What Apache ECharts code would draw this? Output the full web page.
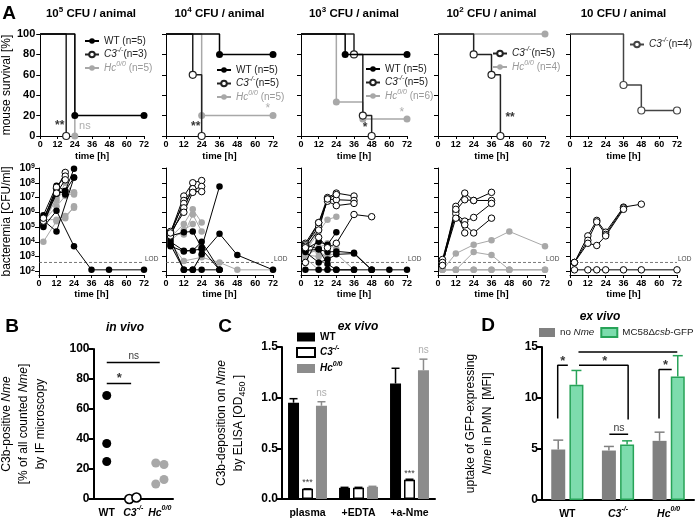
<!DOCTYPE html>
<html><head><meta charset="utf-8">
<script src="https://cdn.jsdelivr.net/npm/echarts@6/dist/echarts.min.js"></script>
<style>html,body{margin:0;padding:0;background:#fff}#c{width:696px;height:521px}</style>
</head><body><div id="c"></div><script>
const FF = '"Liberation Sans", Arial, Helvetica, sans-serif';

// ===== Panel A, top row: survival [%] vs time [h] =====
const s1_WT = [[0,100],[24,20],[72,20]];
const s1_C3 = [[0,100],[18,0]];
const s1_Hc = [[0,100],[24,0]];
const s2_WT = [[0,100],[36,80],[72,80]];
const s2_C3 = [[0,100],[18,60],[24,0]];
const s2_Hc = [[0,100],[24,20],[72,20]];
const s3_WT = [[0,100],[30,80],[72,80]];
const s3_C3 = [[0,100],[36,80],[42,20],[48,0]];
const s3_Hc = [[0,100],[24,33.3],[42,16.7],[72,16.7]];
const s4_C3 = [[0,100],[24,80],[36,60],[42,0]];
const s4_Hc = [[0,100],[72,100]];
const s5_C3 = [[0,100],[36,50],[48,25],[72,25]];
const plotTitles = ['5','4','3','2',''];

// ===== Panel A, bottom row: bacteremia, log10 CFU/ml vs time [h] =====
const bac1_Hc = [
 [[3,4.0],[12,5.4],[18,5.6],[24,6.4]],
 [[3,5.4],[12,6.4],[18,7.1],[24,7.3]],
 [[3,5.6],[12,6.8],[18,8.0],[24,7.2]],
 [[3,5.5],[12,5.5],[18,5.75],[24,6.3]],
 [[3,5.2],[12,7.0],[18,7.4],[24,7.35]]];
const bac1_WT = [
 [[3,5.8],[12,7.8],[18,7.45],[24,8.95]],
 [[3,5.45],[12,4.7],[24,8.35]],
 [[3,5.1],[12,7.55],[18,7.2]],
 [[3,5.3],[12,7.25],[18,7.45],[24,8.35]],
 [[3,5.0],[12,6.1],[24,3.7],[36,2.1],[48,2.1],[72,2.1]]];
const bac1_C3 = [
 [[3,5.5],[12,7.6],[18,8.7]],
 [[3,5.4],[12,7.7],[18,8.45]],
 [[3,5.6],[12,7.3],[18,8.2]]];

const bac2_Hc = [
 [[3,4.3],[12,5.2],[18,6.2],[24,5.3]],
 [[3,4.5],[12,4.5],[18,5.85],[24,4.7]],
 [[3,4.1],[12,4.8],[18,5.2]],
 [[3,3.9],[12,2.7],[24,2.95],[36,2.6],[48,2.1],[72,2.1]],
 [[3,4.0],[12,2.1],[18,2.1],[24,3.1]]];
const bac2_WT = [
 [[3,4.4],[12,4.65],[18,4.7],[24,3.6],[36,7.75]],
 [[3,4.0],[12,3.4],[18,3.4],[24,4.0],[36,2.1]],
 [[3,3.8],[12,2.1],[18,2.1],[24,3.15],[36,4.55],[48,3.1],[72,2.1]],
 [[3,4.2],[12,2.1],[18,2.1],[24,2.1],[36,2.1]],
 [[3,3.7],[12,3.35],[24,3.5],[36,2.1]]];
const bac2_C3 = [
 [[3,4.6],[12,7.1],[18,8.0],[24,8.15]],
 [[3,4.5],[12,6.8],[18,7.5],[24,7.75]],
 [[3,4.7],[12,6.6],[18,7.4],[24,7.4]],
 [[3,4.4],[12,6.3],[18,7.6]],
 [[3,4.6],[12,6.0],[18,7.35]]];

const bac3_Hc = [
 [[3,3.2],[12,5.2],[18,6.85],[24,6.9]],
 [[3,3.3],[12,4.7],[18,5.5],[24,5.7]],
 [[3,3.0],[12,3.6],[18,3.9],[24,3.5]],
 [[3,3.4],[12,3.3],[18,3.0]],
 [[3,2.9],[12,2.1],[18,2.1],[24,2.1]],
 [[3,3.1],[12,3.0],[24,3.2],[36,2.1]]];
const bac3_WT = [
 [[3,3.5],[12,4.0],[18,3.8],[24,4.65]],
 [[3,3.8],[12,3.5],[18,3.3],[24,3.35],[36,3.25],[48,2.1]],
 [[3,3.3],[12,2.6],[18,2.8],[24,3.15],[36,3.2],[48,2.1]],
 [[3,2.1],[12,2.1],[18,2.1],[24,2.1],[36,2.1],[48,2.1],[60,2.1],[72,2.1]],
 [[3,3.4],[12,3.5],[18,2.5],[24,2.1],[36,2.1]]];
const bac3_C3 = [
 [[3,3.9],[12,5.3],[18,7.0],[24,7.3],[36,7.1]],
 [[3,3.8],[12,5.0],[18,6.9],[24,6.85],[36,6.8]],
 [[3,3.7],[12,5.3],[18,6.75],[24,6.45],[36,6.6]],
 [[3,2.6],[12,4.3],[18,3.6],[24,3.9],[36,5.85],[48,5.7]],
 [[3,3.6],[12,4.8],[18,6.9],[24,7.2]]];

const bac4_Hc = [
 [[3,2.1],[12,3.2],[24,3.8],[36,4.1],[48,4.7],[72,3.7]],
 [[3,2.1],[12,2.1],[24,3.3],[36,3.1],[48,2.1]],
 [[3,2.1],[12,2.1],[24,2.1],[36,2.1],[48,2.1],[72,2.1]],
 [[3,2.1],[12,2.1],[24,2.1],[36,2.1],[48,2.1],[72,2.1]]];
const bac4_WT = [];
const bac4_C3 = [
 [[3,2.6],[12,6.4],[18,7.3],[24,6.8],[36,7.35]],
 [[3,2.8],[12,6.1],[18,6.85],[24,6.8],[36,6.8]],
 [[3,2.5],[12,5.9],[18,5.4],[24,5.65],[36,6.6]],
 [[3,2.6],[12,5.6],[18,5.15],[24,4.6],[36,5.6]],
 [[3,2.4],[12,6.2],[18,4.6]]];

const bac5_Hc = [];
const bac5_WT = [];
const bac5_C3 = [
 [[3,2.1],[12,2.1],[18,2.1],[24,2.1],[36,2.1],[48,2.1],[72,2.1]],
 [[3,2.6],[12,4.4],[18,5.45],[24,4.65],[36,6.35],[48,6.55]],
 [[3,2.6],[12,4.1],[18,5.35],[24,4.5],[36,6.3]],
 [[3,2.6],[12,3.9],[18,3.75],[24,4.4],[36,6.2]]];

const LOD = 2.6;               // log10 CFU/ml
const bacTicks = [2,3,4,5,6,7,8,9];
const timeTicksMax = 72;

// ===== Panel B: C3b-positive Nme [%] =====
const B_cats = ['WT','C3','Hc'];
const B_WT = [[0.5,69],[0.5,37],[0.5,25]];
const B_C3 = [[1.35,0],[1.62,1]];
const B_Hc = [[2.35,24],[2.35,10],[2.66,23],[2.66,13]];

// ===== Panel C: C3b deposition OD450 =====
const C_cats = ['plasma','+EDTA','+a-Nme'];
const C_WT = [0.95,0.11,1.14];  const C_WT_err = [0.04,0.005,0.15];
const C_C3 = [0.10,0.11,0.19];  const C_C3_err = [0,0.005,0.005];
const C_Hc = [0.92,0.12,1.27];  const C_Hc_err = [0.04,0.005,0.11];

// ===== Panel D: uptake MFI =====
const D_cats = ['WT','C3','Hc'];
const D_no  = [4.95,4.85,5.8];  const D_no_err  = [0.92,0.4,0.85];
const D_gfp = [11.3,5.45,12.1]; const D_gfp_err = [1.4,0.35,2.05];

// ================= build =================
function rich(size, weight, lh) {
  const sup = Math.round(size*0.68);
  const L = lh || size+5;
  return {
    n:{fontFamily:FF,fontSize:size,fontWeight:weight,lineHeight:L},
    i:{fontFamily:FF,fontSize:size,fontWeight:weight,fontStyle:'italic',lineHeight:L},
    s:{fontFamily:FF,fontSize:sup,fontWeight:weight,verticalAlign:'top',lineHeight:sup+2},
    si:{fontFamily:FF,fontSize:sup,fontWeight:weight,fontStyle:'italic',verticalAlign:'top',lineHeight:sup+2},
    b:{fontFamily:FF,fontSize:sup+1,fontWeight:weight,verticalAlign:'bottom',lineHeight:sup+2}
  };
}
const catLabel = {WT:'{n|WT}', C3:'{i|C3}{si|-/-}', Hc:'{i|Hc}{si|0/0}'};

const colL = [38,166,301,438,570];
const colW = [106,107,106,107,107];
const grids=[], xAxis=[], yAxis=[], series=[], legend=[];
const BLK='#000', GRY='#a8a8a8', C3L='#222';

for (let i=0;i<5;i++) grids.push({left:colL[i],width:colW[i],top:34,height:102});
for (let i=0;i<5;i++) grids.push({left:colL[i],width:colW[i],top:168,height:107});
grids.push({left:76,top:349,width:97,height:150});   // 10 B
grids.push({left:282,top:347,width:153,height:152}); // 11 C
grids.push({left:542,top:347,width:152,height:153}); // 12 D

function timeAxis(gi, gap){
  return {type:'value',gridIndex:gi,min:0,max:timeTicksMax,interval:12,
    axisLine:{onZero:false,lineStyle:{color:BLK,width:1}},axisTick:{length:3,lineStyle:{color:BLK}},
    axisLabel:{fontFamily:FF,fontSize:9,fontWeight:'bold',color:BLK,margin:4},
    splitLine:{show:false},
    name:'time [h]',nameLocation:'middle',nameGap:gap,
    nameTextStyle:{fontFamily:FF,fontSize:9.5,fontWeight:'bold',color:BLK}};
}
for (let i=0;i<5;i++) xAxis.push(timeAxis(i,15));
for (let i=0;i<5;i++) xAxis.push(timeAxis(5+i,14));
for (let i=0;i<5;i++) yAxis.push({type:'value',gridIndex:i,min:0,max:100,interval:20,
  axisLine:{show:true,lineStyle:{color:BLK,width:1}},axisTick:{show:true,length:4,lineStyle:{color:BLK}},
  axisLabel:{show:i===0,fontFamily:FF,fontSize:11,fontWeight:'bold',color:BLK,margin:5},
  splitLine:{show:false},
  name:i===0?'mouse survival [%]':'',nameLocation:'middle',nameGap:27,
  nameTextStyle:{fontFamily:FF,fontSize:12,color:BLK}});
for (let i=0;i<5;i++) yAxis.push({type:'value',gridIndex:5+i,min:1.75,max:9,
  axisLine:{show:true,onZero:false,lineStyle:{color:BLK,width:1}},
  axisTick:{show:true,length:4,lineStyle:{color:BLK},customValues:bacTicks},
  axisLabel:{show:i===0,customValues:bacTicks,margin:4,color:BLK,interval:0,hideOverlap:false,
    formatter:v=>'{n|10}{s|'+v+'}',rich:rich(10.5,'bold',11)},
  splitLine:{show:false},
  name:i===0?'bacteremia [CFU/ml]':'',nameLocation:'middle',nameGap:26,
  nameTextStyle:{fontFamily:FF,fontSize:12,color:BLK}});

// B / C / D axes
function catAxis(gi, cats, fmt){
  return {type:'category',gridIndex:gi,data:cats,boundaryGap:true,
    axisLine:{lineStyle:{color:BLK,width:2}},axisTick:{alignWithLabel:true,length:4,lineStyle:{width:2,color:BLK}},
    axisLabel:{margin:6,color:BLK,interval:0,hideOverlap:false,formatter:fmt,rich:rich(10.5,'bold')}};
}
function hiddenX(gi){ return {type:'value',gridIndex:gi,min:0,max:3,show:false}; }
xAxis.push(catAxis(10,B_cats,v=>catLabel[v]));  // 10
xAxis.push(hiddenX(10));                         // 11
xAxis.push(catAxis(11,C_cats,v=>'{n|'+v+'}'));  // 12
xAxis.push(hiddenX(11));                         // 13
xAxis.push(catAxis(12,D_cats,v=>catLabel[v]));  // 14
xAxis.push(hiddenX(12));                         // 15

function valAxis(gi,max,interval,fmt,name,gap){
  return {type:'value',gridIndex:gi,min:0,max:max,interval:interval,
    axisLine:{show:true,lineStyle:{color:BLK,width:2}},axisTick:{show:true,length:5,lineStyle:{width:2,color:BLK}},
    axisLabel:{fontFamily:FF,fontSize:12,fontWeight:'bold',color:BLK,margin:4,formatter:fmt},
    splitLine:{show:false},name:name,nameLocation:'middle',nameGap:gap,nameRotate:90,
    nameTextStyle:{color:BLK,rich:rich(12,'normal')}};
}
yAxis.push(valAxis(10,100,20,null,'{n|C3b-positive }{i|Nme}\n{n|[% of all counted }{i|Nme}{n|]}\n{n|by IF microscopy}',44));
yAxis.push(valAxis(11,1.5,0.5,v=>v.toFixed(1),'{n|C3b-deposition on }{i|Nme}\n{n|by ELISA [OD}{b|450}{n| ]}',35));
yAxis.push(valAxis(12,15,5,null,'{n|uptake of GFP-expressing}\n{i|Nme}{n| in PMN  [MFI]}',46));

// ---- survival series
function surv(gi,data,kind,name,color){
  const col = color || (kind==='WT'?BLK:kind==='C3'?C3L:GRY);
  return {type:'line',name:name,xAxisIndex:gi,yAxisIndex:gi,step:'end',clip:false,silent:true,
    data:data.map((p,k)=>k===0?{value:p,symbol:'none'}:{value:p}),
    symbol:'circle',symbolSize:7,
    lineStyle:{color:col,width:1.5},
    itemStyle: kind==='C3'?{color:'#fff',borderColor:col,borderWidth:1.2}:{color:col},
    z: kind==='Hc'?2:kind==='C3'?3:4};
}
series.push(surv(0,s1_Hc,'Hc','s1_Hc'),surv(0,s1_C3,'C3','s1_C3'),surv(0,s1_WT,'WT','s1_WT'));
series.push(surv(1,s2_Hc,'Hc','s2_Hc'),surv(1,s2_C3,'C3','s2_C3'),surv(1,s2_WT,'WT','s2_WT'));
series.push(surv(2,s3_Hc,'Hc','s3_Hc'),surv(2,s3_C3,'C3','s3_C3'),surv(2,s3_WT,'WT','s3_WT'));
series.push(surv(3,s4_Hc,'Hc','s4_Hc'),surv(3,s4_C3,'C3','s4_C3'));
series.push(surv(4,s5_C3,'C3','s5_C3','#444'));

function annot(xi,yi,pts,color,size,weight){
  return {type:'scatter',xAxisIndex:xi,yAxisIndex:yi,silent:true,symbolSize:1,z:10,
    itemStyle:{color:'transparent'},
    data:pts.map(p=>({value:[p[0],p[1]],label:{formatter:p[2]}})),
    label:{show:true,position:'inside',color:color,fontSize:size,fontWeight:weight,fontFamily:FF}};
}
series.push(annot(0,0,[[13.5,10,'**']],BLK,12,'bold'));
series.push(annot(0,0,[[31,10,'ns']],'#999',11,'normal'));
series.push(annot(1,1,[[20,9,'**']],BLK,12,'bold'));
series.push(annot(1,1,[[68.5,27,'*']],'#999',12,'normal'));
series.push(annot(2,2,[[68.5,23,'*']],'#999',12,'normal'));
series.push(annot(2,2,[[43.5,8,'*']],BLK,12,'bold'));
series.push(annot(3,3,[[48.5,18,'**']],BLK,12,'bold'));

// ---- bacteremia series
const bacAll = [[bac1_Hc,bac1_WT,bac1_C3],[bac2_Hc,bac2_WT,bac2_C3],[bac3_Hc,bac3_WT,bac3_C3],[bac4_Hc,bac4_WT,bac4_C3],[bac5_Hc,bac5_WT,bac5_C3]];
for (let i=0;i<5;i++){
  const ax=5+i;
  series.push({type:'line',xAxisIndex:ax,yAxisIndex:ax,silent:true,symbol:'none',
    data:[[0,LOD],[72,LOD]],lineStyle:{color:'#555',width:0.8,type:[3,2]},z:1,
    endLabel:{show:true,formatter:'LOD',fontSize:6.5,fontFamily:FF,color:'#444',distance:1,offset:[0,-3]}});
  const kinds=['Hc','WT','C3'];
  bacAll[i].forEach((mice,k)=>{
    const kind=kinds[k];
    mice.forEach(m=>series.push({type:'line',xAxisIndex:ax,yAxisIndex:ax,silent:true,clip:false,
      data:m,symbol:'circle',symbolSize:6.5,
      lineStyle:{color:kind==='Hc'?GRY:BLK,width:1},
      itemStyle:kind==='C3'?{color:'#fff',borderColor:BLK,borderWidth:1}:{color:kind==='Hc'?GRY:BLK},
      z:kind==='Hc'?2:kind==='WT'?3:4}));
  });
}

// ---- Panel B
series.push({type:'scatter',xAxisIndex:11,yAxisIndex:10,data:B_WT,symbolSize:9,itemStyle:{color:BLK,opacity:1},silent:true});
series.push({type:'scatter',xAxisIndex:11,yAxisIndex:10,data:B_C3,symbolSize:9,itemStyle:{color:'#fff',borderColor:BLK,borderWidth:1.6,opacity:1},silent:true});
series.push({type:'scatter',xAxisIndex:11,yAxisIndex:10,data:B_Hc,symbolSize:9,itemStyle:{color:GRY,opacity:1},silent:true});
function bracket(xi,yi,pts,color,w){
  return {type:'line',xAxisIndex:xi,yAxisIndex:yi,data:pts,symbol:'none',silent:true,clip:false,
    lineStyle:{color:color||BLK,width:w||1.5},z:6};
}
series.push(bracket(11,10,[[0.5,77],[1.42,77]]));
series.push(bracket(11,10,[[0.5,91],[2.5,91]]));
series.push(annot(11,10,[[0.97,80.5,'*']],BLK,13,'bold'));
series.push(annot(11,10,[[1.52,95,'ns']],BLK,10,'normal'));

// ---- Panel C
function errSeries(xi,yi,vals,errs,offset,color,cap){
  return {type:'custom',xAxisIndex:xi,yAxisIndex:yi,silent:true,z:5,
    data:vals.map((v,k)=>[k,v,errs[k]]),
    renderItem:function(params,api){
      const a=api.coord([api.value(0),api.value(1)]);
      const b=api.coord([api.value(0),api.value(1)+api.value(2)]);
      const x=a[0]+offset;
      return {type:'group',children:[
        {type:'line',shape:{x1:x,y1:a[1],x2:x,y2:b[1]},style:{stroke:color,lineWidth:1.5}},
        {type:'line',shape:{x1:x-cap,y1:b[1],x2:x+cap,y2:b[1]},style:{stroke:color,lineWidth:1.5}}]};
    }};
}
const cBW=11, cGap=0.27, cOff=cBW*(1+cGap);
series.push({type:'bar',name:'C_WT',xAxisIndex:12,yAxisIndex:11,data:C_WT,barWidth:cBW,barGap:(cGap*100)+'%',itemStyle:{color:BLK},silent:true});
series.push({type:'bar',name:'C_C3',xAxisIndex:12,yAxisIndex:11,data:C_C3,barWidth:cBW,itemStyle:{color:'#fff',borderColor:BLK,borderWidth:1.5},silent:true});
series.push({type:'bar',name:'C_Hc',xAxisIndex:12,yAxisIndex:11,data:C_Hc,barWidth:cBW,itemStyle:{color:'#8c8c8c'},silent:true});
series.push(errSeries(12,11,C_WT,C_WT_err,-cOff,BLK,4));
series.push(errSeries(12,11,C_C3,C_C3_err,0,BLK,4));
series.push(errSeries(12,11,C_Hc,C_Hc_err,cOff,'#8c8c8c',4));
series.push(annot(13,11,[[0.5,0.16,'***'],[2.5,0.25,'***']],BLK,9,'normal'));
series.push(annot(13,11,[[0.775,1.04,'ns'],[2.775,1.47,'ns']],'#999',10,'normal'));

// ---- Panel D
const dBW=14, dGap=0.3, dOff=dBW*(1+dGap)/2;
series.push({type:'bar',name:'D_no',xAxisIndex:14,yAxisIndex:12,data:D_no,barWidth:dBW,barGap:(dGap*100)+'%',itemStyle:{color:'#808080'},silent:true});
series.push({type:'bar',name:'D_gfp',xAxisIndex:14,yAxisIndex:12,data:D_gfp,barWidth:dBW,itemStyle:{color:'#7ddcad',borderColor:'#27a358',borderWidth:1.5},silent:true});
series.push(errSeries(14,12,D_no,D_no_err,-dOff,'#808080',5));
series.push(errSeries(14,12,D_gfp,D_gfp_err,dOff,'#27a358',5));
series.push(bracket(15,12,[[0.31,8.0],[0.31,13.2],[0.51,13.2]]));
series.push(bracket(15,12,[[0.73,13.2],[1.70,13.2],[1.70,7.9]]));
series.push(bracket(15,12,[[1.33,6.45],[1.70,6.45]]));
series.push(bracket(15,12,[[0.72,14.5],[2.67,14.5]]));
series.push(bracket(15,12,[[2.31,8.0],[2.31,12.8],[2.56,12.8]]));
series.push(annot(15,12,[[0.41,13.6,'*'],[1.24,13.6,'*'],[2.44,13.2,'*']],BLK,13,'bold'));
series.push(annot(15,12,[[1.52,7.05,'ns'],[1.6,15.15,'ns']],BLK,10.5,'normal'));

// ---- legends
const legendText = {
 s1_WT:'{n|WT (n=5)}', s1_C3:'{i|C3}{si|-/-}{n|(n=3)}', s1_Hc:'{i|Hc}{si|0/0}{n| (n=5)}',
 s2_WT:'{n|WT (n=5)}', s2_C3:'{i|C3}{si|-/-}{n|(n=5)}', s2_Hc:'{i|Hc}{si|0/0}{n| (n=5)}',
 s3_WT:'{n|WT (n=5)}', s3_C3:'{i|C3}{si|-/-}{n|(n=5)}', s3_Hc:'{i|Hc}{si|0/0}{n| (n=6)}',
 s4_C3:'{i|C3}{si|-/-}{n|(n=5)}', s4_Hc:'{i|Hc}{si|0/0}{n| (n=4)}',
 s5_C3:'{i|C3}{si|-/-}{n|(n=4)}',
 C_WT:'{n|WT}', C_C3:'{i|C3}{si|-/-}', C_Hc:'{i|Hc}{si|0/0}',
 D_no:'{n|no }{i|Nme}', D_gfp:'{n|MC58Δ}{i|csb}{n|-GFP}'
};
function survLegend(left,top,names){
  return {orient:'vertical',left:left,top:top,padding:0,itemGap:1,itemWidth:14,itemHeight:7,
    selectedMode:false,
    data:names.map(n=>n.endsWith('Hc')?{name:n,textStyle:{color:'#999'}}:{name:n}),
    formatter:n=>legendText[n],textStyle:{color:'#222',rich:rich(10,'normal')}};
}
legend.push(survLegend(84,36,['s1_WT','s1_C3','s1_Hc']));
legend.push(survLegend(216,65,['s2_WT','s2_C3','s2_Hc']));
legend.push(survLegend(365,64,['s3_WT','s3_C3','s3_Hc']));
legend.push(survLegend(492,46,['s4_C3','s4_Hc']));
legend.push(survLegend(629,37,['s5_C3']));
legend.push({orient:'vertical',left:296,top:332,padding:0,itemGap:3,itemWidth:18,itemHeight:9,icon:'rect',
  selectedMode:false,data:['C_WT','C_C3','C_Hc'],formatter:n=>legendText[n],
  textStyle:{color:BLK,rich:rich(10,'bold')}});
legend.push({orient:'horizontal',left:539,top:327,width:220,padding:0,itemGap:6,itemWidth:16,itemHeight:9,icon:'rect',
  selectedMode:false,data:['D_no','D_gfp'],formatter:n=>legendText[n],
  textStyle:{color:'#222',rich:rich(9.8,'normal')}});

// ---- free text
function txt(x,y,text,r,extra){
  return Object.assign({type:'text',x:x,y:y,silent:true,
    style:{text:text,align:'center',textAlign:'center',verticalAlign:'middle',textVerticalAlign:'middle',rich:r,fill:BLK}},extra||{});
}
const centers=[91,219.5,354,491.5,623.5];
const graphic=[];
for (let i=0;i<5;i++){
  const t = plotTitles[i] ? '{n|10}{s|'+plotTitles[i]+'}{n| CFU / animal}' : '{n|10 CFU / animal}';
  graphic.push(txt(centers[i],14,t,rich(11.5,'bold')));
}
const bigR={n:{fontFamily:FF,fontSize:19,fontWeight:'bold'}};
graphic.push(txt(9,14,'{n|A}',bigR));
graphic.push(txt(12,327,'{n|B}',bigR));
graphic.push(txt(225,327,'{n|C}',bigR));
graphic.push(txt(488,326,'{n|D}',bigR));
graphic.push(txt(125,328,'{i|in vivo}',rich(12,'bold')));
graphic.push(txt(358,327,'{i|ex vivo}',rich(12,'bold')));
graphic.push(txt(600,317,'{i|ex vivo}',rich(12,'bold')));

const chart = echarts.init(document.getElementById('c'),null,{renderer:'canvas'});
chart.setOption({animation:false,backgroundColor:'#fff',grid:grids,xAxis:xAxis,yAxis:yAxis,series:series,legend:legend,graphic:graphic});
</script></body></html>
